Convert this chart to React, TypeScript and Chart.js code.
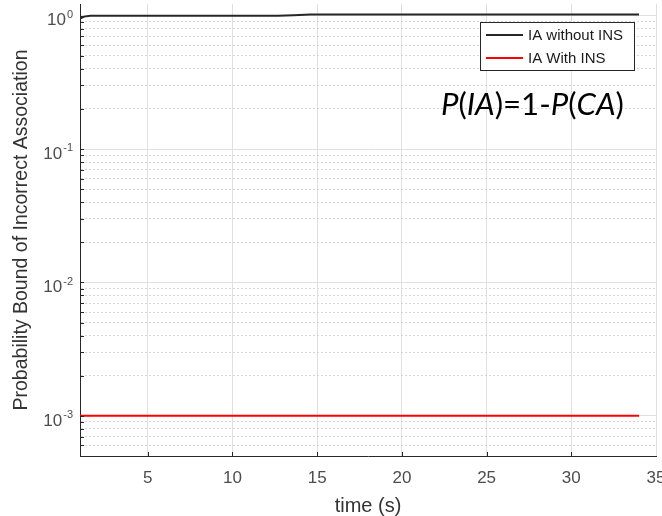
import { useEffect, useRef } from "react";
import { Chart, registerables } from "chart.js";

Chart.register(...registerables);

// ---- data ----
const timeWithoutINS = [1, 1.25, 1.6, 12.7, 13.6, 14.6, 34];
const probWithoutINS = [0.95, 0.985, 1.0, 1.0, 1.01, 1.02, 1.02];
const timeWithINS = [1, 34];
const probWithINS = [0.001, 0.001];

const seriesNames = ["IA without INS", "IA With INS"];
const seriesColors = ["#262626", "#ff0000"];

const xTickValues = [5, 10, 15, 20, 25, 30, 35];
const xMin = 1;
const xMax = 35;
const yMin = 5e-4;
const yMax = 1.225;
const yDecadeExponents = [-3, -2, -1, 0];

const xTitle = "time (s)";
const yTitle = "Probability Bound of Incorrect Association";
const formulaParts: [string, boolean][] = [
  ["P", true],
  ["(", false],
  ["IA", true],
  [")=1-", false],
  ["P", true],
  ["(", false],
  ["CA", true],
  [")", false],
];

const FONT = "'Liberation Sans', Arial, Helvetica, sans-serif";

function isDecade(v: number) {
  const l = Math.log10(v);
  return Math.abs(l - Math.round(l)) < 1e-9;
}

function buildLogTicks() {
  const out: { value: number }[] = [];
  for (let e = -4; e <= 0; e++) {
    for (let m = 1; m <= 9; m++) {
      const v = m * Math.pow(10, e);
      if (v >= yMin * (1 - 1e-9) && v <= yMax * (1 + 1e-9)) out.push({ value: v });
    }
  }
  return out;
}

const overlayPlugin = {
  id: "overlay",
  afterDraw(chart: any) {
    const ctx: CanvasRenderingContext2D = chart.ctx;
    const { left, bottom } = chart.chartArea;
    const ys = chart.scales.y;
    const xs = chart.scales.x;
    ctx.save();

    // inward tick marks
    ctx.strokeStyle = "#262626";
    ctx.lineWidth = 1;
    ctx.beginPath();
    ys.ticks.forEach((t: any) => {
      const py = Math.round(ys.getPixelForValue(t.value)) + 0.5;
      ctx.moveTo(left, py);
      ctx.lineTo(left + 4, py);
    });
    xTickValues.forEach((v) => {
      if (v >= xMax) return;
      const px = Math.round(xs.getPixelForValue(v)) + 0.5;
      ctx.moveTo(px, bottom);
      ctx.lineTo(px, bottom - 4);
    });
    ctx.stroke();

    // y tick labels with superscript exponents
    ctx.fillStyle = "#4d4d4d";
    ctx.textAlign = "right";
    ctx.textBaseline = "middle";
    yDecadeExponents.forEach((e) => {
      const py = ys.getPixelForValue(Math.pow(10, e));
      const sup = e < 0 ? "-" + -e : String(e);
      ctx.font = `11px ${FONT}`;
      const sw = ctx.measureText(sup).width;
      ctx.fillText(sup, 73, py - 1);
      ctx.font = `17px ${FONT}`;
      ctx.fillText("10", 73 - sw - 1, py + 5);
    });

    // legend box
    const bx = 480.5, by = 22.5, bw = 154, bh = 48;
    ctx.fillStyle = "#ffffff";
    ctx.fillRect(bx, by, bw, bh);
    ctx.strokeStyle = "#262626";
    ctx.lineWidth = 1;
    ctx.strokeRect(bx, by, bw, bh);
    const rowY = [35, 58];
    seriesNames.forEach((name, i) => {
      ctx.strokeStyle = seriesColors[i];
      ctx.lineWidth = 2;
      ctx.beginPath();
      ctx.moveTo(486, rowY[i]);
      ctx.lineTo(523, rowY[i]);
      ctx.stroke();
      ctx.fillStyle = "#1a1a1a";
      ctx.font = `15px ${FONT}`;
      ctx.textAlign = "left";
      ctx.textBaseline = "middle";
      ctx.fillText(name, 528, rowY[i] + 0.5);
    });

    // formula annotation
    const fam = "Lato, 'Open Sans', sans-serif";
    const base = 30;
    let total = 0;
    formulaParts.forEach(([s, it]) => {
      ctx.font = `${it ? "italic " : ""}${base}px ${fam}`;
      total += ctx.measureText(s).width;
    });
    const size = (base * 183) / total;
    let fx = 441;
    ctx.fillStyle = "#000000";
    ctx.textAlign = "left";
    ctx.textBaseline = "alphabetic";
    formulaParts.forEach(([s, it]) => {
      ctx.font = `${it ? "italic " : ""}${size}px ${fam}`;
      ctx.fillText(s, fx, 115);
      fx += ctx.measureText(s).width;
    });

    ctx.restore();
  },
};

export default function App() {
  const canvasRef = useRef<HTMLCanvasElement | null>(null);

  useEffect(() => {
    if (!canvasRef.current) return;
    const chart = new Chart(canvasRef.current, {
      type: "line",
      data: {
        datasets: [
          {
            label: seriesNames[0],
            data: timeWithoutINS.map((t, i) => ({ x: t, y: probWithoutINS[i] })),
            borderColor: seriesColors[0],
            borderWidth: 2,
            pointRadius: 0,
            tension: 0,
            fill: false,
          },
          {
            label: seriesNames[1],
            data: timeWithINS.map((t, i) => ({ x: t, y: probWithINS[i] })),
            borderColor: seriesColors[1],
            borderWidth: 2,
            pointRadius: 0,
            tension: 0,
            fill: false,
          },
        ],
      },
      options: {
        responsive: false,
        animation: false,
        devicePixelRatio: 1,
        layout: { padding: { left: 0, right: 6, top: 4, bottom: 0 } },
        plugins: {
          legend: { display: false },
          tooltip: { enabled: false },
        },
        scales: {
          x: {
            type: "linear",
            min: xMin,
            max: xMax,
            bounds: "data",
            afterBuildTicks: (scale: any) => {
              scale.ticks = xTickValues.map((v) => ({ value: v }));
            },
            afterFit: (scale: any) => {
              scale.height = 60;
              scale.paddingLeft = 0;
              scale.paddingRight = 0;
            },
            grid: { color: "#e0e0e0", lineWidth: 1, drawTicks: false },
            border: { color: "#262626", width: 1 },
            ticks: {
              color: "#4d4d4d",
              font: { family: FONT, size: 17 },
              padding: 12,
              maxRotation: 0,
              autoSkip: false,
              callback: (v: any) => String(v),
            },
            title: {
              display: true,
              text: xTitle,
              color: "#333333",
              font: { family: FONT, size: 20, lineHeight: 1 },
              padding: { top: 0, bottom: 0 },
            },
          },
          y: {
            type: "logarithmic",
            min: yMin,
            max: yMax,
            bounds: "data",
            afterBuildTicks: (scale: any) => {
              scale.ticks = buildLogTicks();
            },
            afterFit: (scale: any) => {
              scale.width = 80;
              scale.paddingTop = 0;
              scale.paddingBottom = 0;
            },
            grid: {
              drawTicks: false,
              lineWidth: 1,
              color: (c: any) => (c.tick && isDecade(c.tick.value) ? "#e0e0e0" : "#d8d8d8"),
            },
            border: {
              color: "#262626",
              width: 1,
              dash: (c: any) => (c.tick && !isDecade(c.tick.value) ? [2, 2] : []),
            } as any,
            ticks: { display: false },
            title: {
              display: true,
              text: yTitle,
              color: "#333333",
              font: { family: FONT, size: 19.5 },
              padding: { top: 10, bottom: 0 },
            },
          },
        },
      } as any,
      plugins: [overlayPlugin],
    });
    return () => chart.destroy();
  }, []);

  return (
    <div style={{ position: "absolute", left: 0, top: 0, width: 662, height: 516, background: "#ffffff" }}>
      <canvas ref={canvasRef} width={662} height={516} style={{ display: "block" }} />
    </div>
  );
}
